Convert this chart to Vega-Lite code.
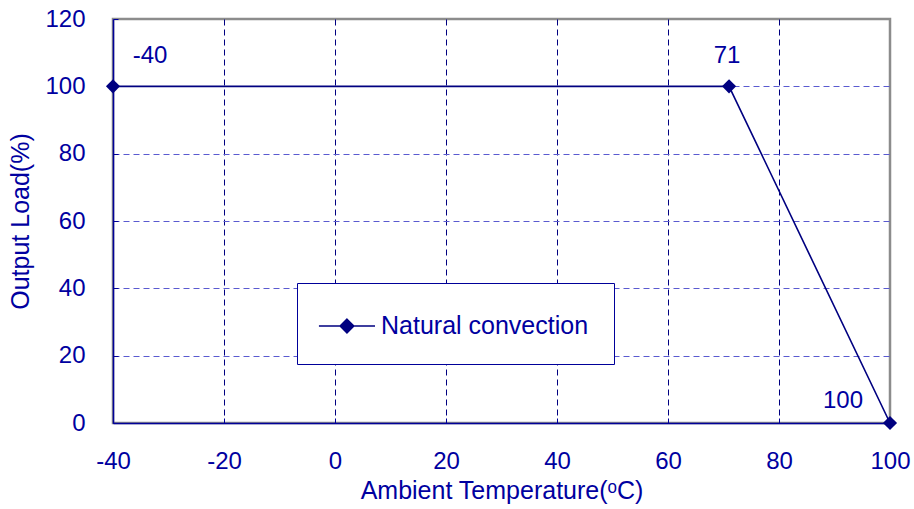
{
  "$schema": "https://vega.github.io/schema/vega-lite/v6.json",
  "width": 777,
  "height": 404,
  "autosize": {"type": "none"},
  "padding": {"left": 113, "top": 19, "right": 24, "bottom": 86},
  "background": "white",
  "config": {
    "font": "Liberation Sans",
    "view": {"stroke": "#8c8c8c", "strokeWidth": 2.5},
    "axis": {
      "labelFont": "Liberation Sans",
      "titleFont": "Liberation Sans",
      "labelFontSize": 24,
      "titleFontSize": 25,
      "titleFontWeight": "normal",
      "labelColor": "#0000a0",
      "titleColor": "#0000a0",
      "domainColor": "#000099",
      "domainWidth": 1.5,
      "tickColor": "#000099",
      "ticks": true,
      "tickSize": -5,
      "tickWidth": 1,
      "labelFlush": false,
      "labelExpr": "toString(datum.value)"
    }
  },
  "data": {
    "values": [
      {"temp": -40, "load": 100, "label": "-40", "series": "Natural convection"},
      {"temp": 71, "load": 100, "label": "71", "series": "Natural convection"},
      {"temp": 100, "load": 0, "label": "100", "series": "Natural convection"}
    ]
  },
  "encoding": {
    "x": {
      "field": "temp",
      "type": "quantitative",
      "scale": {"domain": [-40, 100], "nice": false, "zero": false},
      "axis": {
        "title": "Ambient Temperature(ᵒC)",
        "values": [-40, -20, 0, 20, 40, 60, 80, 100],
        "labelPadding": 31,
        "titlePadding": 5,
        "gridColor": "#000080",
        "gridDash": [6, 4],
        "gridWidth": 1,
        "gridOpacity": {"condition": {"test": "datum.value == 100 || datum.value == -40", "value": 0}, "value": 1}
      }
    },
    "y": {
      "field": "load",
      "type": "quantitative",
      "scale": {"domain": [0, 120], "nice": false},
      "axis": {
        "title": "Output Load(%)",
        "values": [0, 20, 40, 60, 80, 100, 120],
        "labelPadding": 33,
        "titlePadding": 11,
        "gridColor": "#5a5ad0",
        "gridDash": [6, 4],
        "gridWidth": 1,
        "gridOpacity": {"condition": {"test": "datum.value == 120 || datum.value == 0", "value": 0}, "value": 1}
      }
    }
  },
  "layer": [
    {
      "mark": {"type": "line", "strokeWidth": 1.6, "clip": false},
      "encoding": {
        "color": {
          "field": "series",
          "type": "nominal",
          "scale": {"range": ["#000080"]},
          "legend": {
            "title": null,
            "orient": "none",
            "legendX": 184,
            "legendY": 264,
            "strokeColor": "#000099",
            "fillColor": "white",
            "padding": 25,
            "symbolType": "M-1.24,0H2.06M0.41,-0.4L0.81,0L0.41,0.4L0.01,0Z",
            "symbolSize": 1156,
            "symbolStrokeWidth": 1.6,
            "symbolFillColor": "#000080",
            "symbolStrokeColor": "#000080",
            "labelOffset": 23,
            "labelFontSize": 25,
            "labelLimit": 500,
            "labelFont": "Liberation Sans",
            "labelColor": "#0000a0"
          }
        }
      }
    },
    {
      "mark": {"type": "point", "shape": "diamond", "filled": true, "size": 200, "color": "#000080", "opacity": 1, "clip": false}
    },
    {
      "transform": [{"filter": "datum.temp == -40"}],
      "mark": {"type": "text", "fontSize": 24, "color": "#0000a0", "dx": 37, "dy": -30, "font": "Liberation Sans"},
      "encoding": {"text": {"field": "label"}}
    },
    {
      "transform": [{"filter": "datum.temp == 71"}],
      "mark": {"type": "text", "fontSize": 24, "color": "#0000a0", "dx": -2, "dy": -30, "font": "Liberation Sans"},
      "encoding": {"text": {"field": "label"}}
    },
    {
      "transform": [{"filter": "datum.temp == 100"}],
      "mark": {"type": "text", "fontSize": 24, "color": "#0000a0", "dx": -47, "dy": -22, "font": "Liberation Sans"},
      "encoding": {"text": {"field": "label"}}
    }
  ]
}
